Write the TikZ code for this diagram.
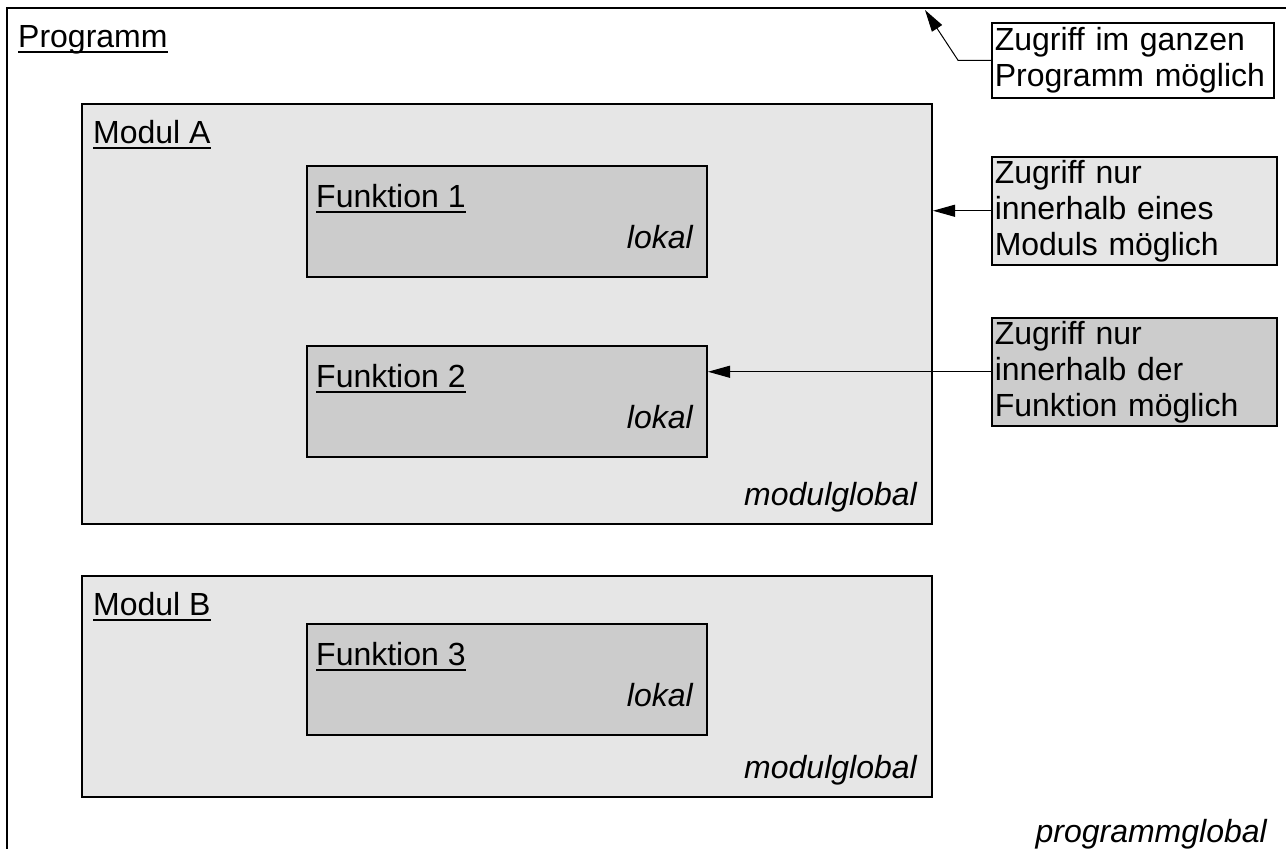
\documentclass[tikz,border=0pt]{standalone}
\usepackage{fontspec}
\setmainfont{Liberation Sans}
\usetikzlibrary{arrows.meta}
\definecolor{modgray}{HTML}{E6E6E6}
\definecolor{fungray}{HTML}{CCCCCC}
\begin{document}
\begin{tikzpicture}[x=1pt,y=-1pt,
  box/.style={draw=black,line width=2pt,anchor=north west,inner sep=0pt},
  modbox/.style={box,fill=modgray,minimum width=850pt},
  funbox/.style={box,fill=fungray,minimum width=400pt,minimum height=111pt},
  lbl/.style={inner sep=0pt,font=\fontsize{32}{38}\selectfont},
  ital/.style={inner sep=0pt,anchor=base east,font=\fontsize{32}{38}\selectfont\itshape},
  ulbl/.style={lbl,anchor=base west},
  ul/.style={line width=1.6pt},
  note/.style={draw=black,line width=1.5pt,anchor=north west,inner xsep=3pt,inner ysep=0pt,
    align=left,font=\fontsize{32}{36}\selectfont},
  conn/.style={line width=1pt,-{Triangle[length=22pt,width=12pt]}}
]
\useasboundingbox (0,0) rectangle (1286,849);
\clip (0,0) rectangle (1286,849);
% outer program frame (cropped)
\draw[line width=2pt] (7,900) -- (7,8) -- (1300,8);
\node[ulbl] (tProg) at (18,47) {Programm};
\draw[ul] ([yshift=-5pt]tProg.base west) -- ([yshift=-5pt]tProg.base east);
\node[ital] (tPG) at (1267,842) {programmglobal};

% Modul A
\node[modbox,minimum height=420pt] (modA) at (81,103) {};
\node[ulbl] (tModA) at (93,143) {Modul A};
\draw[ul] ([yshift=-5pt]tModA.base west) -- ([yshift=-5pt]tModA.base east);
\node[ital] (tMGA) at (917,505) {modulglobal};

\node[funbox] (f1) at (306,165) {};
\node[ulbl] (tF1) at (316,207) {Funktion 1};
\draw[ul] ([yshift=-5pt]tF1.base west) -- ([yshift=-5pt]tF1.base east);
\node[ital] (tL1) at (693,248) {lokal};

\node[funbox] (f2) at (306,345) {};
\node[ulbl] (tF2) at (316,387) {Funktion 2};
\draw[ul] ([yshift=-5pt]tF2.base west) -- ([yshift=-5pt]tF2.base east);
\node[ital] (tL2) at (693,428) {lokal};

% Modul B
\node[modbox,minimum height=221pt] (modB) at (81,575) {};
\node[ulbl] (tModB) at (93,615) {Modul B};
\draw[ul] ([yshift=-5pt]tModB.base west) -- ([yshift=-5pt]tModB.base east);
\node[ital] (tMGB) at (917,778) {modulglobal};

\node[funbox] (f3) at (306,623) {};
\node[ulbl] (tF3) at (316,665) {Funktion 3};
\draw[ul] ([yshift=-5pt]tF3.base west) -- ([yshift=-5pt]tF3.base east);
\node[ital] (tL3) at (693,706) {lokal};

% notes
\node[note,fill=white,text width=276pt,minimum height=75pt] (n1) at (991,22)
  {Zugriff im ganzen\\Programm möglich};
\node[note,fill=modgray,text width=279pt,minimum height=108pt] (n2) at (991,156)
  {Zugriff nur\\innerhalb eines\\Moduls möglich};
\node[note,fill=fungray,text width=279pt,minimum height=108pt] (n3) at (991,317)
  {Zugriff nur\\innerhalb der\\Funktion möglich};

\coordinate (progtop) at (925,10);
\draw[conn] (n1.west) -- ++(-33,0) -- (progtop);
\draw[conn] (n2.west) -- (n2.west -| modA.east);
\draw[conn] (n3.west) -- (n3.west -| f2.east);
\end{tikzpicture}
\end{document}
